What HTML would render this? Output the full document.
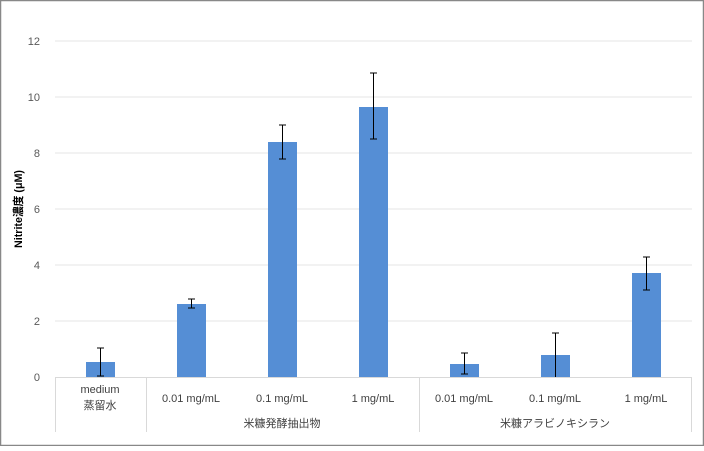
<!DOCTYPE html><html><head><meta charset="utf-8"><style>body{margin:0;background:#fff}</style></head><body>
<svg width="704" height="446" xmlns="http://www.w3.org/2000/svg" font-family="'Liberation Sans','Noto Sans CJK JP',sans-serif">
<rect x="0.5" y="0.5" width="703" height="445" fill="#fff" stroke="#888" stroke-width="1.5"/>
<g stroke="#e4e4e4" stroke-width="1">
<line x1="55" x2="692" y1="41" y2="41"/><line x1="55" x2="692" y1="97" y2="97"/><line x1="55" x2="692" y1="153" y2="153"/><line x1="55" x2="692" y1="209" y2="209"/><line x1="55" x2="692" y1="265" y2="265"/><line x1="55" x2="692" y1="321" y2="321"/>
</g>
<line x1="55" x2="692" y1="377.5" y2="377.5" stroke="#d9d9d9"/>
<g stroke="#d9d9d9"><line x1="55.5" x2="55.5" y1="377" y2="432"/><line x1="146.5" x2="146.5" y1="377" y2="432"/><line x1="419.5" x2="419.5" y1="377" y2="432"/><line x1="691.5" x2="691.5" y1="377" y2="432"/></g>
<g font-size="11" fill="#595959" text-anchor="end">
<text x="40" y="45">12</text><text x="40" y="101">10</text><text x="40" y="157">8</text><text x="40" y="213">6</text><text x="40" y="269">4</text><text x="40" y="325">2</text><text x="40" y="381">0</text>
</g>
<text transform="translate(22,209) rotate(-90)" text-anchor="middle" font-size="11" font-weight="bold" fill="#000" textLength="78" lengthAdjust="spacingAndGlyphs">Nitrite濃度 (μM)</text>
<g fill="#558ed5">
<rect x="86" y="362" width="29" height="15"/>
<rect x="177" y="304" width="29" height="73"/>
<rect x="268" y="142" width="29" height="235"/>
<rect x="359" y="107" width="29" height="270"/>
<rect x="450" y="364" width="29" height="13"/>
<rect x="541" y="355" width="29" height="22"/>
<rect x="632" y="273" width="29" height="104"/>
</g>
<g stroke="#000" stroke-width="1">
<path d="M100.5 348V376M97 348h7M97 376h7"/>
<path d="M191.5 299V308M188 299h7M188 308h7"/>
<path d="M282.5 125V159M279 125h7M279 159h7"/>
<path d="M373.5 73V139M370 73h7M370 139h7"/>
<path d="M464.5 353V374M461 353h7M461 374h7"/>
<path d="M555.5 333V377M552 333h7"/>
<path d="M646.5 257V290M643 257h7M643 290h7"/>
</g>
<g font-size="11" fill="#404040" text-anchor="middle">
<text x="100" y="393">medium</text><text x="100" y="409">蒸留水</text>
<text x="191" y="402">0.01 mg/mL</text><text x="282" y="402">0.1 mg/mL</text><text x="373" y="402">1 mg/mL</text>
<text x="464" y="402">0.01 mg/mL</text><text x="555" y="402">0.1 mg/mL</text><text x="646" y="402">1 mg/mL</text>
<text x="282" y="427">米糠発酵抽出物</text><text x="555" y="427">米糠アラビノキシラン</text>
</g>
</svg></body></html>
